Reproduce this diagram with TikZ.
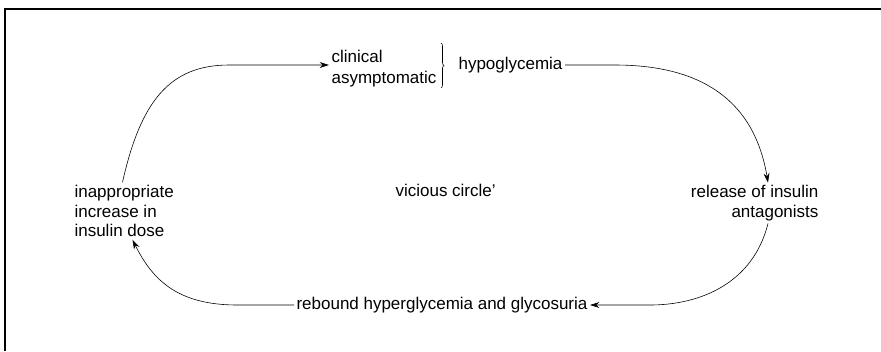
\documentclass[tikz,border=0pt]{standalone}
\usepackage{fontspec}
\setmainfont{Liberation Sans}
\usepackage{tikz}
\usetikzlibrary{arrows.meta,positioning,decorations.pathreplacing}

\tikzset{
  lbl/.style={inner sep=2pt},
  link/.style={-{Stealth[length=8pt,width=5pt]}, line width=0.5pt},
  frameline/.style={line width=0.9pt}
}

\begin{document}
\begin{tikzpicture}[x=0.03cm, y=-0.03cm, font=\fontsize{14.5}{17}\selectfont]
    \useasboundingbox (0,0) rectangle (881,351);
    % frame: top and left edge only
    \draw[frameline] (881,9) -- (5,9) -- (5,351);

    % texts
    \node[lbl, anchor=west] (clin) at (329,56) {clinical};
    \node[lbl, anchor=west] (asym) at (329,79) {asymptomatic};
    \node[lbl, anchor=west] (hypo) at (456,65) {hypoglycemia};
    \node[lbl, anchor=east, align=right] (rel) at (821,203) {release of insulin\\antagonists};
    \node[lbl, anchor=center] (reb) at (442,305) {rebound hyperglycemia and glycosuria};
    \node[lbl, anchor=west, align=left] (ins) at (72,211) {inappropriate\\increase in\\insulin dose};
    \node[lbl, anchor=west] (vic) at (393,190) {vicious circle'};

    % brace between the two kinds and hypoglycemia
    \draw[line width=0.5pt, decorate, decoration={brace, amplitude=2.5pt}] (441,43) -- (441,88);

    % the circle
    \draw[link] (hypo.east) -- ++(50,0) .. controls +(110,0) and +(-10,-60) .. ([xshift=0.4cm]rel.north);
    \draw[link] ([xshift=0.4cm]rel.south) .. controls +(-15,60) and +(50,0) .. ([xshift=1.8cm]reb.east) -- (reb.east);
    \draw[link] (reb.west) -- ([xshift=-1.7cm]reb.west) .. controls +(-60,0) and +(20,40) .. ([xshift=0.25cm]ins.south);
    \draw[link] ([xshift=-0.05cm]ins.north) .. controls +(18,-80) and +(-60,0) .. ([xshift=-3cm]clin.west |- hypo.west) -- (clin.west |- hypo.west);
\end{tikzpicture}
\end{document}
